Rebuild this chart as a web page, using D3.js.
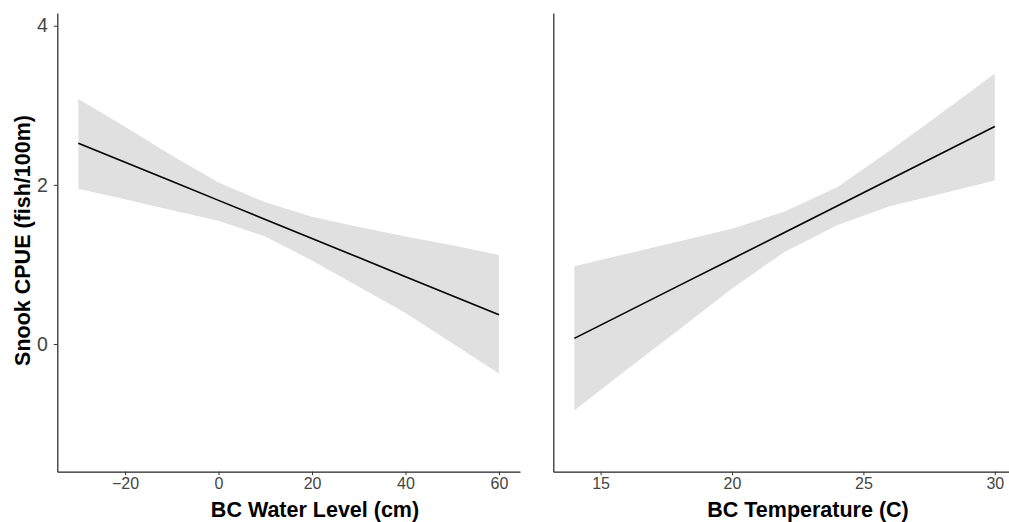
<!DOCTYPE html>
<html>
<head>
<meta charset="utf-8">
<script src="https://cdn.jsdelivr.net/npm/d3@7"></script>
<style>
  body { margin: 0; background: #fff; }
  svg { display: block; }
  .title { font-family: "Liberation Sans", Arial, sans-serif; font-size: 21.5px; font-weight: bold; fill: #000; }
</style>
</head>
<body>
<svg width="1009" height="522"></svg>
<script>
// left panel: water level
var water_level = [-30, -20, -10, 0, 10, 20, 30, 40, 50, 60];
var wl_fit   = [2.524, 2.284, 2.045, 1.805, 1.565, 1.326, 1.086, 0.846, 0.607, 0.367];
var wl_upper = [3.08, 2.73, 2.37, 2.03, 1.78, 1.60, 1.47, 1.35, 1.24, 1.12];
var wl_lower = [1.95, 1.82, 1.68, 1.55, 1.35, 1.05, 0.72, 0.39, 0.01, -0.37];
var wl_ticks = [-20, 0, 20, 40, 60];

// right panel: temperature
var temperature = [14, 16, 18, 20, 22, 24, 26, 28, 30];
var t_fit   = [0.071, 0.404, 0.737, 1.069, 1.402, 1.735, 2.068, 2.401, 2.734];
var t_upper = [0.978, 1.135, 1.29, 1.45, 1.666, 1.97, 2.43, 2.91, 3.40];
var t_lower = [-0.836, -0.32, 0.186, 0.698, 1.157, 1.492, 1.73, 1.893, 2.056];
var t_ticks = [15, 20, 25, 30];

var y_ticks = [0, 2, 4];

var svg = d3.select("svg");
var top_y = 13, bottom_y = 471.7;
var FONT = '"Liberation Sans", Arial, sans-serif';

var y = d3.scaleLinear().domain([-1.605, 4.16]).range([bottom_y, top_y]);

function style_axis(a, size){
    // ggplot classic look: dark axis line, grey tick labels
    a.attr("font-family", FONT).attr("font-size", size);
    a.select(".domain").attr("stroke", "#222").attr("stroke-width", 1.2);
    a.selectAll(".tick line").attr("stroke", "#333");
    a.selectAll(".tick text").attr("fill", "#444");
}

function draw_panel(xs, fit, upper, lower, x_domain, x_range, ticks, title, title_x, show_y){
    var x = d3.scaleLinear().domain(x_domain).range(x_range);
    var g = svg.append("g");

    var rows = xs.map(function(v, i){
        return {x: v, fit: fit[i], hi: upper[i], lo: lower[i]};
    });

    g.append("path")
        .datum(rows)
        .attr("fill", "#e0e0e0")
        .attr("d", d3.area()
            .x(function(d){ return x(d.x); })
            .y0(function(d){ return y(d.lo); })
            .y1(function(d){ return y(d.hi); }));

    g.append("path")
        .datum(rows)
        .attr("fill", "none")
        .attr("stroke", "#000")
        .attr("stroke-width", 1.6)
        .attr("d", d3.line()
            .x(function(d){ return x(d.x); })
            .y(function(d){ return y(d.fit); }));

    // x axis
    var xa = g.append("g")
        .attr("transform", "translate(0," + bottom_y + ")")
        .call(d3.axisBottom(x).tickValues(ticks).tickSize(3.5).tickSizeOuter(0).tickPadding(2.5)
            .tickFormat(function(d){ return d < 0 ? "\u2212" + Math.abs(d) : d; }));
    style_axis(xa, 16);

    // y axis (its labels are set larger than the x ones)
    var ya = g.append("g")
        .attr("transform", "translate(" + x_range[0] + ",0)")
        .call(d3.axisLeft(y).tickValues(show_y ? y_ticks : []).tickSize(3.5).tickSizeOuter(0)
            .tickPadding(6).tickFormat(d3.format("d")));
    style_axis(ya, 19.5);

    svg.append("text")
        .attr("class", "title")
        .attr("x", title_x)
        .attr("y", 516.5)
        .attr("text-anchor", "middle")
        .text(title);
}

draw_panel(water_level, wl_fit, wl_upper, wl_lower, [-34.5, 64.5], [57.3, 520], wl_ticks,
    "BC Water Level (cm)", 315, true);
draw_panel(temperature, t_fit, t_upper, t_lower, [13.2, 30.8], [553.3, 1015.8], t_ticks,
    "BC Temperature (C)", 808, false);

svg.append("text")
    .attr("class", "title")
    .attr("transform", "translate(30,240.5) rotate(-90)")
    .attr("text-anchor", "middle")
    .text("Snook CPUE (fish/100m)");
</script>
</body>
</html>
